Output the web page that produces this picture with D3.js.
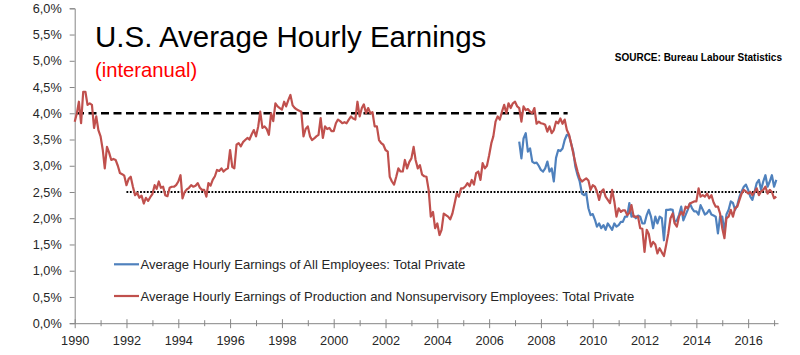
<!DOCTYPE html>
<html><head><meta charset="utf-8">
<script src="https://cdn.jsdelivr.net/npm/d3@7"></script>
<style>
html,body{margin:0;padding:0;background:#fff;}
svg{display:block;font-family:"Liberation Sans",Arial,sans-serif;}
</style></head>
<body>
<svg id="chart" width="800" height="355"></svg>
<script>
// ---------- DATA ----------
const titleText = "U.S. Average Hourly Earnings";
const subtitleText = "(interanual)";
const sourceText = "SOURCE: Bureau Labour Statistics";
const seriesNames = [
  "Average Hourly Earnings of All Employees: Total Private",
  "Average Hourly Earnings of Production and Nonsupervisory Employees: Total Private"
];
// Production & nonsupervisory, monthly YoY %, from Jan 1990
const redStart = [1990, 0];
const redValues = [
  3.84,4.00,4.22,3.81,4.41,4.41,4.16,4.19,4.16,3.72,3.94,3.68,
  3.56,3.30,2.95,3.36,3.25,3.11,3.13,3.11,3.00,2.86,2.84,2.81,
  2.63,2.75,2.79,2.60,2.44,2.48,2.39,2.43,2.28,2.39,2.33,2.40,
  2.46,2.63,2.56,2.70,2.58,2.60,2.44,2.42,2.58,2.60,2.60,2.63,
  2.70,2.82,2.38,2.50,2.55,2.58,2.63,2.60,2.62,2.67,2.58,2.54,
  2.54,2.41,2.67,2.62,2.73,2.80,2.92,2.90,2.95,2.89,2.93,2.95,
  3.30,2.98,2.95,3.40,3.43,3.37,3.45,3.49,3.53,3.50,3.60,3.68,
  3.56,3.75,4.03,3.72,3.75,3.70,3.59,4.00,3.85,4.19,4.13,4.10,
  4.07,4.22,4.13,4.25,4.35,4.15,4.10,4.07,4.05,4.03,3.56,3.70,
  3.75,3.56,3.49,3.52,3.56,3.59,3.91,3.53,3.75,3.70,3.72,3.66,
  3.66,3.81,3.88,3.85,3.81,3.83,3.81,3.88,3.94,3.90,3.88,4.22,
  3.94,4.10,4.17,4.00,4.10,4.00,4.02,3.75,3.75,3.49,3.43,3.40,
  3.30,3.27,2.79,2.70,2.64,2.79,2.95,2.89,2.89,3.11,2.95,3.07,
  3.14,3.36,3.11,2.95,3.01,2.83,2.80,2.79,2.54,2.03,2.12,1.81,
  1.90,1.68,1.78,2.09,2.06,2.03,1.98,2.09,2.28,2.47,2.41,2.57,
  2.57,2.61,2.67,2.61,2.73,2.64,2.86,2.89,2.73,3.05,2.95,3.00,
  3.20,3.43,3.56,3.84,3.94,3.88,4.03,4.16,4.00,4.19,4.10,4.19,
  4.22,4.13,4.10,3.84,4.13,4.06,4.08,4.03,4.00,4.10,3.80,3.84,
  3.81,3.80,3.78,3.65,3.75,3.62,3.68,3.84,3.81,3.90,3.80,3.88,
  3.68,3.59,3.43,3.24,3.05,2.89,2.76,2.70,2.73,2.76,2.72,2.54,
  2.63,2.60,2.51,2.35,2.51,2.55,2.41,2.35,2.29,2.54,2.32,2.03,
  2.19,2.12,2.15,2.15,2.06,2.10,2.25,2.03,2.03,2.03,1.81,1.80,
  1.36,1.78,1.70,1.46,1.55,1.50,1.33,1.43,1.35,1.28,1.49,1.71,
  2.00,2.09,1.90,1.84,2.03,2.12,2.06,2.22,2.19,2.28,2.30,2.32,
  2.32,2.57,2.41,2.44,2.41,2.47,2.38,2.44,2.30,2.22,2.22,2.09,
  1.81,1.62,2.00,2.03,2.16,2.03,2.19,2.22,2.35,2.47,2.54,2.51,
  2.47,2.50,2.44,2.50,2.57,2.44,2.51,2.54,2.60,2.47,2.54,2.50,
  2.38,2.41
];
// All employees, monthly YoY %, from Mar 2007
const blueStart = [2007, 2];
const blueValues = [
  3.46,3.14,3.52,3.62,3.27,3.33,3.08,3.05,3.06,3.00,
  2.92,2.89,2.95,3.08,2.89,2.95,2.70,3.15,3.30,3.28,3.33,3.49,
  3.59,3.57,3.43,3.27,2.98,2.82,2.70,2.47,2.44,2.48,2.19,2.06,
  2.08,1.97,1.84,1.90,1.81,1.87,1.78,1.90,1.84,1.78,1.90,1.84,
  1.87,1.93,1.93,2.03,2.03,2.29,2.03,2.05,2.00,2.05,2.03,1.90,
  1.90,2.06,2.16,2.03,1.81,2.03,1.90,2.03,2.00,1.58,2.16,2.16,
  2.17,2.16,1.93,1.96,2.06,2.22,1.96,2.06,2.16,2.28,2.19,2.13,
  2.13,2.07,2.25,2.16,2.07,2.10,2.16,2.07,2.05,2.03,1.71,2.03,
  2.03,1.74,2.07,2.16,2.32,2.29,2.16,2.25,2.41,2.51,2.60,2.64,
  2.54,2.41,2.35,2.51,2.67,2.73,2.54,2.70,2.82,2.60,2.70,2.82,
  2.60,2.73
];
// Reference levels: [startYearFrac, endYearFrac, value]
const refDashed = [1990.05, 2009.03, 4.0];
const refDotted = [1992.0, 2017.1, 2.5];
const yTicks = [0,0.5,1,1.5,2,2.5,3,3.5,4,4.5,5,5.5,6];
const xMajorYears = [1990,1992,1994,1996,1998,2000,2002,2004,2006,2008,2010,2012,2014,2016];
const xMinorYears = [1991,1993,1995,1997,1999,2001,2003,2005,2007,2009,2011,2013,2015,2017];

// ---------- CHART ----------
const svg = d3.select("#chart");
const x = d3.scaleTime()
  .domain([new Date(1990,0,1), new Date(2017,1,25)])
  .range([74.7, 778]);
const y = d3.scaleLinear().domain([0,6]).range([323.2, 8.3]);

const frac = yf => { const yr = Math.floor(yf); const d0 = new Date(yr,0,1), d1 = new Date(yr+1,0,1); return new Date(+d0 + (yf-yr)*(d1-d0)); };
const toPts = (start, vals) => vals.map((v,i) => ({date: new Date(start[0], start[1]+i, 1), v}));
const red = toPts(redStart, redValues);
const blue = toPts(blueStart, blueValues);

const axisColor = "#868686";
const textColor = "#262626";
const fontFam = '"Liberation Sans", Arial, sans-serif';

// Y axis
const yAxis = svg.append("g").attr("transform","translate(74.7,0)")
  .call(d3.axisLeft(y).tickValues(yTicks).tickSize(5).tickPadding(8)
    .tickFormat(d => d.toFixed(1).replace(".", ",") + "%"));
yAxis.select(".domain").attr("stroke", axisColor).attr("stroke-width",1);
yAxis.selectAll(".tick line").attr("stroke", axisColor);
yAxis.selectAll("text").attr("fill", textColor).style("font-size","12.7px").style("font-family",fontFam);

// X axis (major + minor)
const xMinor = svg.append("g").attr("transform","translate(0,323.2)")
  .call(d3.axisBottom(x).tickValues(xMinorYears.map(yr=>new Date(yr,0,1))).tickSize(3).tickFormat(""));
xMinor.select(".domain").remove();
xMinor.selectAll(".tick line").attr("stroke", axisColor).attr("y1",-3);
const xAxis = svg.append("g").attr("transform","translate(0,323.2)")
  .call(d3.axisBottom(x).tickValues(xMajorYears.map(yr=>new Date(yr,0,1))).tickSize(5).tickSizeOuter(0).tickPadding(8)
    .tickFormat(d3.timeFormat("%Y")));
xAxis.select(".domain").attr("stroke", axisColor).attr("stroke-width",1);
xAxis.selectAll(".tick line").attr("stroke", axisColor).attr("y1",-4);
xAxis.selectAll("text").attr("fill", textColor).style("font-size","12.7px").style("font-family",fontFam);

// Reference lines
svg.append("line")
  .attr("x1", x(frac(refDashed[0]))).attr("x2", x(frac(refDashed[1])))
  .attr("y1", y(refDashed[2])).attr("y2", y(refDashed[2]))
  .attr("stroke","#000").attr("stroke-width",2.4).attr("stroke-dasharray","8,4.5");
svg.append("line")
  .attr("x1", x(frac(refDotted[0]))).attr("x2", x(frac(refDotted[1])))
  .attr("y1", y(refDotted[2])).attr("y2", y(refDotted[2]))
  .attr("stroke","#000").attr("stroke-width",2).attr("stroke-dasharray","1.8,1.6");

// Series lines
const line = d3.line().x(d => x(d.date)).y(d => y(d.v));
const blueColor = "#4F81BD", redColor = "#C0504D";
svg.append("path").datum(blue).attr("d", line).attr("fill","none")
  .attr("stroke", blueColor).attr("stroke-width",2.2).attr("stroke-linejoin","round");
svg.append("path").datum(red).attr("d", line).attr("fill","none")
  .attr("stroke", redColor).attr("stroke-width",2.2).attr("stroke-linejoin","round");

// Titles
svg.append("text").attr("x",95).attr("y",47).text(titleText)
  .attr("fill","#000").style("font-size","29.5px").style("font-family",fontFam);
svg.append("text").attr("x",95).attr("y",77).text(subtitleText)
  .attr("fill","#FF0000").style("font-size","20.2px").style("font-family",fontFam);
svg.append("text").attr("x",782).attr("y",61).attr("text-anchor","end").text(sourceText)
  .attr("fill","#000").style("font-size","10px").style("font-weight","bold").style("font-family",fontFam);

// Legend
const legend = svg.append("g");
const legItems = [{name: seriesNames[0], color: blueColor, yy: 264.3},
                  {name: seriesNames[1], color: redColor, yy: 296}];
legItems.forEach(it => {
  legend.append("line").attr("x1",114).attr("x2",139).attr("y1",it.yy).attr("y2",it.yy)
    .attr("stroke", it.color).attr("stroke-width",2.2);
  legend.append("text").attr("x",140.5).attr("y",it.yy).attr("dy","0.35em").text(it.name)
    .attr("fill", textColor).style("font-size","13.1px").style("font-family",fontFam);
});
</script>
</body></html>
